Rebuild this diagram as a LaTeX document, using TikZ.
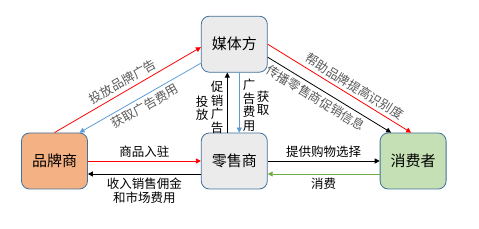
\documentclass[tikz,border=0pt]{standalone}
\usepackage{fontspec}
\setmainfont{Noto Sans CJK SC}
\usetikzlibrary{arrows.meta,positioning}
\definecolor{mkBox}{HTML}{EBEBEB}
\definecolor{mkEdge}{HTML}{41719C}
\definecolor{mkBrand}{HTML}{F4B183}
\definecolor{mkUser}{HTML}{C5E0B4}
\definecolor{mkRed}{HTML}{FF0000}
\definecolor{mkBlue}{HTML}{5B9BD5}
\definecolor{mkGreen}{HTML}{70AD47}
\definecolor{mkText}{HTML}{595959}
\tikzset{
  party/.style={
    draw=mkEdge, fill=mkBox, rounded corners=8pt, minimum width=66pt,
    minimum height=56pt, font=\fontsize{15}{18}\selectfont, line width=0.8pt
  },
  brandbox/.style={party, fill=mkBrand},
  userbox/.style={party, fill=mkUser},
  flow/.style={-{Triangle[length=5pt,width=5pt]}, line width=0.8pt, black},
  redflow/.style={flow, mkRed},
  blueflow/.style={flow, mkBlue},
  greenflow/.style={flow, mkGreen},
  note/.style={font=\fontsize{12.5}{14}\selectfont, align=center, text=black},
  slant/.style={note, sloped, text=mkText},
  vnote/.style={note, font=\fontsize{12.5}{13.5}\selectfont, inner sep=0pt}
}
\begin{document}
\begin{tikzpicture}[x=1pt, y=1pt]
  \useasboundingbox (0,0) rectangle (479,229);
  \node[brandbox] (brand) at (54.5,68) {品牌商};
  \node[party, right=113pt of brand] (retail) {零售商};
  \node[userbox, right=112pt of retail] (user) {消费者};
  \node[party, above=60pt of retail] (media) {媒体方};
  % bottom row
  \draw[redflow] (brand) -- node[note, above] {商品入驻} (retail);
  \draw[flow] ([yshift=-13pt]retail.west) -- node[note, below] {收入销售佣金\\和市场费用} ([yshift=-13pt]brand.east);
  \draw[flow] (retail) -- node[note, above] {提供购物选择} (user);
  \draw[greenflow] ([yshift=-13pt]user.west) -- node[note, below] {消费} ([yshift=-13pt]retail.east);
  % retail <-> media
  \draw[flow] ([xshift=-7pt]retail.north) -- ([xshift=-7pt]media.south);
  \draw[blueflow] ([xshift=5pt]media.south) -- ([xshift=5pt]retail.north);
  \node[vnote] (put) at (202,120.5) {投\\放};
  \node[vnote] (promo) at (217,121.5) {促\\销\\广\\告};
  \node[vnote] (fee) at (249,123.5) {广\\告\\费\\用};
  \node[vnote] (get) at (263,125.5) {获\\取};
  % diagonals
  \draw[redflow] (brand.north) -- node[slant, above] {投放品牌广告} ([yshift=-3pt]media.west);
  \draw[blueflow] ([yshift=-19pt]media.west) -- node[slant, below] {获取广告费用} ([xshift=25pt]brand.north);
  \draw[redflow] (media.east) -- node[slant, above, pos=0.57] {帮助品牌提高识别度} ([xshift=-2pt]user.north);
  \draw[flow] ([yshift=-13pt]media.east) -- node[slant, below, pos=0.43] {传播零售商促销信息} ([xshift=-22pt]user.north);
\end{tikzpicture}
\end{document}
